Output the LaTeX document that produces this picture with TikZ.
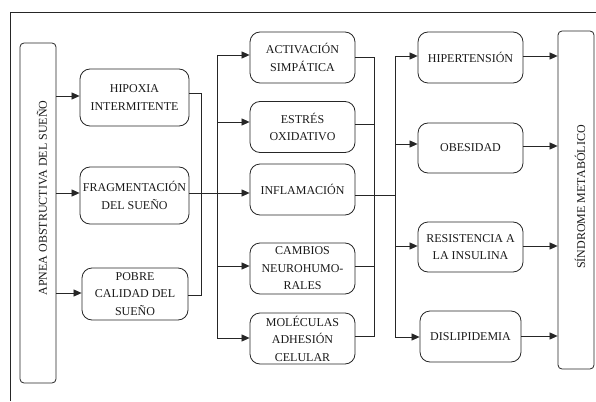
\documentclass[tikz,border=0pt]{standalone}
\usepackage{fontspec}
\setmainfont{Liberation Serif}
\usetikzlibrary{arrows.meta}
\begin{document}
\begin{tikzpicture}[x=1pt,y=-1pt,
  every node/.style={font=\fontsize{12}{17.5}\selectfont, text=black!90},
  rbox/.style={draw=black!85, line width=0.8pt, rounded corners=10pt, align=center, inner sep=0pt},
  tall/.style={draw=black!85, line width=0.8pt, rounded corners=4pt, inner sep=0pt},
  conn/.style={draw=black!85, line width=0.7pt},
  arr/.style={conn, -{Triangle[length=8pt,width=7pt]}}]
\useasboundingbox (0,0) rectangle (596,401);
\draw[conn, line width=0.8pt] (10,401) -- (10,12) -- (596,12);
% left tall box
\node[tall, minimum width=36pt, minimum height=340pt] (apnea) at (38,213) {};
\node[rotate=90] (apneatxt) at (42,198) {APNEA OBSTRUCTIVA DEL SUEÑO};
% column 1
\node[rbox, minimum width=109pt, minimum height=57pt] (hip) at (134.5,97.5) {HIPOXIA\\INTERMITENTE};
\node[rbox, minimum width=109pt, minimum height=57pt] (frag) at (134.5,195.5) {FRAGMENTACIÓN\\DEL SUEÑO};
\node[rbox, minimum width=106pt, minimum height=52pt] (pob) at (135,294) {POBRE\\CALIDAD DEL\\SUEÑO};
% column 2
\node[rbox, minimum width=105pt, minimum height=51pt] (act) at (302.5,57.5) {ACTIVACIÓN\\SIMPÁTICA};
\node[rbox, minimum width=105pt, minimum height=51pt] (est) at (302.5,127) {ESTRÉS\\OXIDATIVO};
\node[rbox, minimum width=105pt, minimum height=51pt] (inf) at (302.5,189.5) {INFLAMACIÓN};
\node[rbox, minimum width=105pt, minimum height=51pt] (cam) at (302.5,268.5) {CAMBIOS\\NEUROHUMO-\\RALES};
\node[rbox, minimum width=105pt, minimum height=51pt] (mol) at (302.5,338.5) {MOLÉCULAS\\ADHESIÓN\\CELULAR};
% column 3
\node[rbox, minimum width=105pt, minimum height=51pt] (hta) at (470.5,57.5) {HIPERTENSIÓN};
\node[rbox, minimum width=105pt, minimum height=50pt] (obe) at (470.5,148) {OBESIDAD};
\node[rbox, minimum width=105pt, minimum height=50pt] (res) at (470.5,247) {RESISTENCIA A\\LA INSULINA};
\node[rbox, minimum width=101pt, minimum height=51pt] (dis) at (470.5,336.5) {DISLIPIDEMIA};
% right tall box
\node[tall, minimum width=36pt, minimum height=338pt] (sm) at (576,200) {};
\node[rotate=90] (smtxt) at (580,197) {SÍNDROME METABÓLICO};
% coordinates
\coordinate (c1) at (201,0);
\coordinate (c2) at (217,0);
\coordinate (c3) at (374,0);
\coordinate (c4) at (395,0);
% apnea -> column 1
\draw[arr] (apnea.east |- 0,96) -- (hip.west |- 0,96);
\draw[arr] (apnea.east |- 0,193) -- (frag.west |- 0,193);
\draw[arr] (apnea.east |- 0,293) -- (pob.west |- 0,293);
% column 1 collector
\draw[conn] (hip.east |- 0,93) -- (c1 |- 0,93) -- (c1 |- 0,295) -- (pob.east |- 0,295);
% column 2 distributor
\draw[conn] (c2 |- 0,55) -- (c2 |- 0,338);
\draw[arr] (c2 |- 0,55) -- (act.west |- 0,55);
\draw[arr] (c2 |- 0,122) -- (est.west |- 0,122);
\draw[arr] (frag.east |- 0,193) -- (inf.west |- 0,193);
\draw[arr] (c2 |- 0,266) -- (cam.west |- 0,266);
\draw[arr] (c2 |- 0,338) -- (mol.west |- 0,338);
% column 2 collector
\draw[conn] (act.east |- 0,57) -- (c3 |- 0,57) -- (c3 |- 0,336) -- (mol.east |- 0,336);
\draw[conn] (est.east |- 0,124) -- (c3 |- 0,124);
\draw[conn] (cam.east |- 0,266) -- (c3 |- 0,266);
\draw[conn] (inf.east |- 0,195) -- (c4 |- 0,195);
% column 3 distributor
\draw[conn] (c4 |- 0,56) -- (c4 |- 0,337);
\draw[arr] (c4 |- 0,56) -- (hta.west |- 0,56);
\draw[arr] (c4 |- 0,144) -- (obe.west |- 0,144);
\draw[arr] (c4 |- 0,246) -- (res.west |- 0,246);
\draw[arr] (c4 |- 0,337) -- (dis.west |- 0,337);
% column 3 -> sindrome
\draw[arr] (hta.east |- 0,56) -- (sm.west |- 0,56);
\draw[arr] (obe.east |- 0,146) -- (sm.west |- 0,146);
\draw[arr] (res.east |- 0,246) -- (sm.west |- 0,246);
\draw[arr] (dis.east |- 0,336) -- (sm.west |- 0,336);
\end{tikzpicture}
\end{document}
